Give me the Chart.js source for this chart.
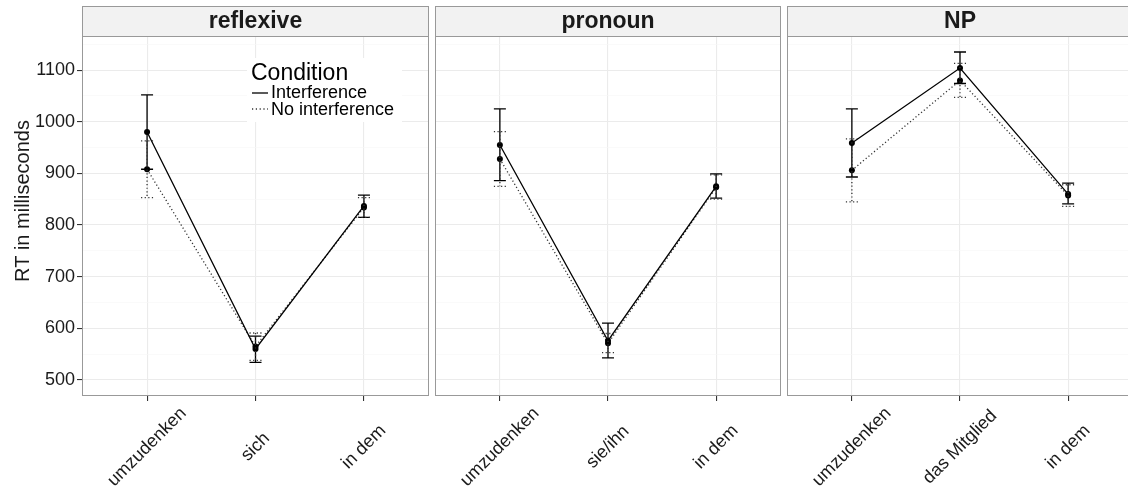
<!DOCTYPE html>
<html>
<head>
<meta charset="utf-8">
<script src="https://cdn.jsdelivr.net/npm/chart.js@4.4.0/dist/chart.umd.min.js"></script>
<style>
html,body{margin:0;padding:0;background:#fff;overflow:hidden;width:1128px;height:490px}
.panel{position:absolute;top:0;height:490px}
</style>
</head>
<body>
<div class="panel" style="left:0;width:430px"><canvas id="p0" width="430" height="490"></canvas></div>
<div class="panel" style="left:434px;width:348px"><canvas id="p1" width="348" height="490"></canvas></div>
<div class="panel" style="left:786px;width:348px"><canvas id="p2" width="348" height="490"></canvas></div>
<script>
// facets and their word positions
var panelNames = ['reflexive', 'pronoun', 'NP'];
var categories = [
    ['umzudenken', 'sich', 'in dem'],
    ['umzudenken', 'sie/ihn', 'in dem'],
    ['umzudenken', 'das Mitglied', 'in dem']
];

// mean RT and error bar ends, one row per facet
var interferenceMean = [[980, 560, 837], [955, 576, 875], [959, 1104, 860]];
var interferenceLow  = [[908, 534, 815], [886, 543, 852], [893, 1074, 841]];
var interferenceHigh = [[1052, 585, 858], [1025, 610, 899], [1025, 1135, 881]];

var noInterferenceMean = [[908, 565, 834], [928, 571, 873], [906, 1080, 857]];
var noInterferenceLow  = [[853, 538, 815], [875, 553, 850], [845, 1047, 836]];
var noInterferenceHigh = [[963, 591, 853], [981, 590, 897], [967, 1113, 878]];

var yMajorTicks = [500, 600, 700, 800, 900, 1000, 1100];
var yMinorTicks = [550, 650, 750, 850, 950, 1050, 1150];

Chart.defaults.font.family = "'Liberation Sans', Arial, sans-serif";
Chart.defaults.color = '#1a1a1a';

var FONT = "'Liberation Sans', Arial, sans-serif";

var facetPlugin = {
    id: 'facet',
    beforeDraw: function(chart){
        var c = chart.ctx, a = chart.chartArea, o = chart.options.plugins.facet;
        // strip
        c.save();
        c.fillStyle = '#f2f2f2';
        c.fillRect(a.left, 6, a.right - a.left, a.top - 6);
        c.strokeStyle = '#999';
        c.lineWidth = 1;
        c.strokeRect(a.left + 0.5, 6.5, a.right - a.left - 1, a.top - 6);
        c.fillStyle = '#1a1a1a';
        c.font = 'bold 23px ' + FONT;
        c.textAlign = 'center';
        c.textBaseline = 'middle';
        c.fillText(panelNames[o.k], (a.left + a.right) / 2, 22);
        c.restore();
    },
    afterDatasetsDraw: function(chart){
        var c = chart.ctx, o = chart.options.plugins.facet;
        var xs = chart.scales.x, ys = chart.scales.y;
        var k = o.k;
        var bars = [
            [interferenceLow[k], interferenceHigh[k], []],
            [noInterferenceLow[k], noInterferenceHigh[k], [1.2, 2.4]]
        ];
        c.save();
        bars.forEach(function(b){
            c.setLineDash(b[2]);
            c.strokeStyle = b[2].length ? '#333' : '#000';
            c.lineWidth = 1.3;
            for (var i = 0; i < b[0].length; i++) {
                var x = xs.getPixelForValue(i);
                var y1 = ys.getPixelForValue(b[1][i]), y2 = ys.getPixelForValue(b[0][i]);
                c.beginPath();
                c.moveTo(x, y1); c.lineTo(x, y2);
                c.moveTo(x - 6, y1); c.lineTo(x + 6, y1);
                c.moveTo(x - 6, y2); c.lineTo(x + 6, y2);
                c.stroke();
            }
        });
        c.restore();
    },
    afterDraw: function(chart){
        var c = chart.ctx, a = chart.chartArea, o = chart.options.plugins.facet;
        var xs = chart.scales.x;
        c.save();
        // panel border
        c.strokeStyle = '#999';
        c.lineWidth = 1;
        c.setLineDash([]);
        c.strokeRect(a.left + 0.5, a.top + 0.5, a.right - a.left - 1, a.bottom - a.top - 1);
        // rotated word labels, centred on their tick
        c.fillStyle = '#1a1a1a';
        c.font = '18px ' + FONT;
        c.textAlign = 'center';
        c.textBaseline = 'middle';
        categories[o.k].forEach(function(lab, i){
            c.save();
            c.translate(xs.getPixelForValue(i), 447);
            c.rotate(-Math.PI / 4);
            c.fillText(lab, 0, 0);
            c.restore();
        });
        if (o.k === 0) {
            // axis title
            c.save();
            c.translate(23, 201);
            c.rotate(-Math.PI / 2);
            c.font = '20px ' + FONT;
            c.fillText('RT in milliseconds', 0, 0);
            c.restore();
            // legend
            c.fillStyle = '#fff';
            c.fillRect(247, 58, 155, 64);
            c.fillStyle = '#000';
            c.textAlign = 'left';
            c.textBaseline = 'alphabetic';
            c.font = '23px ' + FONT;
            c.fillText('Condition', 251, 80);
            c.font = '18px ' + FONT;
            c.textBaseline = 'middle';
            c.fillText('Interference', 271, 93);
            c.fillText('No interference', 271, 110);
            c.lineWidth = 1.3;
            c.strokeStyle = '#000';
            c.beginPath(); c.moveTo(252, 93); c.lineTo(268, 93); c.stroke();
            c.setLineDash([1.2, 2.6]);
            c.strokeStyle = '#333';
            c.beginPath(); c.moveTo(252, 109); c.lineTo(268, 109); c.stroke();
        }
        c.restore();
    }
};

function pts(arr){
    return arr.map(function(v, i){ return {x: i, y: v}; });
}

function facet(id, k){
    var first = k === 0;
    new Chart(document.getElementById(id), {
        type: 'line',
        data: {
            datasets: [
                {label: 'Interference', data: pts(interferenceMean[k]), borderColor: '#000', borderWidth: 1.3,
                 pointRadius: 3, pointBackgroundColor: '#000', pointBorderWidth: 0, tension: 0},
                {label: 'No interference', data: pts(noInterferenceMean[k]), borderColor: '#333', borderWidth: 1.3,
                 borderDash: [1.2, 2.4], pointRadius: 3, pointBackgroundColor: '#000', pointBorderWidth: 0, tension: 0}
            ]
        },
        options: {
            responsive: false,
            animation: false,
            layout: {autoPadding: false, padding: {top: 36, right: 1, left: first ? 0 : 1, bottom: 0}},
            plugins: {legend: {display: false}, tooltip: {enabled: false}, facet: {k: k}},
            scales: {
                x: {
                    type: 'linear', min: -0.6, max: 2.6,
                    afterBuildTicks: function(s){ s.ticks = [{value: 0}, {value: 1}, {value: 2}]; },
                    afterFit: function(s){ s.height = 94; },
                    ticks: {display: false},
                    border: {display: false},
                    grid: {color: '#ebebeb', lineWidth: 1.1, tickLength: 5, tickColor: '#333', drawTicks: true}
                },
                y: {
                    min: 469, max: 1166,
                    afterBuildTicks: function(s){
                        s.ticks = yMajorTicks.concat(yMinorTicks).sort(function(a, b){ return a - b; })
                            .map(function(v){ return {value: v}; });
                    },
                    afterFit: function(s){ s.width = first ? 82 : 0; },
                    border: {display: false},
                    ticks: {
                        display: first, padding: 2, font: {size: 18}, color: '#1a1a1a', autoSkip: false,
                        callback: function(v){ return yMajorTicks.indexOf(v) >= 0 ? String(v) : ''; }
                    },
                    grid: {
                        drawTicks: first, tickLength: 5,
                        color: function(ctx){ return ctx.tick && yMajorTicks.indexOf(ctx.tick.value) >= 0 ? '#ebebeb' : '#f6f6f6'; },
                        lineWidth: function(ctx){ return ctx.tick && yMajorTicks.indexOf(ctx.tick.value) >= 0 ? 1.1 : 0.6; },
                        tickColor: function(ctx){ return ctx.tick && yMajorTicks.indexOf(ctx.tick.value) >= 0 ? '#333' : 'rgba(0,0,0,0)'; }
                    }
                }
            }
        },
        plugins: [facetPlugin]
    });
}

facet('p0', 0);
facet('p1', 1);
facet('p2', 2);
</script>
</body>
</html>
